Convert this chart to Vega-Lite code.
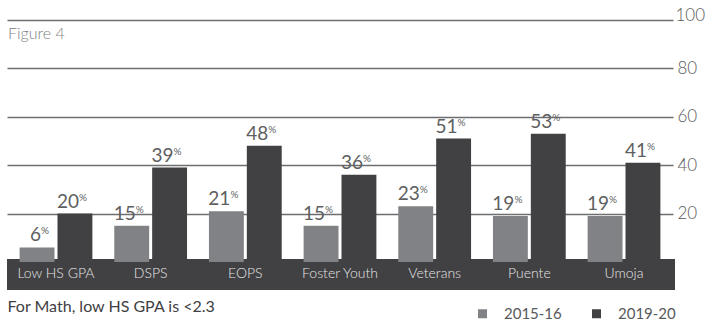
{
  "$schema": "https://vega.github.io/schema/vega-lite/v6.json",
  "autosize": {"type": "none"},
  "padding": {"left": 7, "top": 20, "right": 37, "bottom": 31},
  "width": 666,
  "height": 270,
  "title": {
    "text": "Figure 4",
    "orient": "top",
    "anchor": "start",
    "frame": "group",
    "font": "Lato",
    "fontSize": 16,
    "fontWeight": 300,
    "color": "#808285",
    "baseline": "alphabetic",
    "offset": -17,
    "dy": 32,
    "dx": 1
  },
  "data": {
    "values": [
      {"program": "Low HS GPA", "year": "2015-16", "pct": 6},
      {"program": "Low HS GPA", "year": "2019-20", "pct": 20},
      {"program": "DSPS", "year": "2015-16", "pct": 15},
      {"program": "DSPS", "year": "2019-20", "pct": 39},
      {"program": "EOPS", "year": "2015-16", "pct": 21},
      {"program": "EOPS", "year": "2019-20", "pct": 48},
      {"program": "Foster Youth", "year": "2015-16", "pct": 15},
      {"program": "Foster Youth", "year": "2019-20", "pct": 36},
      {"program": "Veterans", "year": "2015-16", "pct": 23},
      {"program": "Veterans", "year": "2019-20", "pct": 51},
      {"program": "Puente", "year": "2015-16", "pct": 19},
      {"program": "Puente", "year": "2019-20", "pct": 53},
      {"program": "Umoja", "year": "2015-16", "pct": 19},
      {"program": "Umoja", "year": "2019-20", "pct": 41}
    ]
  },
  "encoding": {
    "x": {
      "field": "program",
      "type": "nominal",
      "sort": null,
      "scale": {"paddingInner": 0, "paddingOuter": 0.0175},
      "axis": {
        "orient": "bottom",
        "labels": false,
        "ticks": false,
        "domain": false,
        "grid": false,
        "title": "For Math, low HS GPA is <2.3",
        "titleAnchor": "start",
        "titleAlign": "left",
        "titleBaseline": "alphabetic",
        "titleX": 0,
        "titleY": 21,
        "titleFont": "Lato",
        "titleFontSize": 16,
        "titleFontWeight": "normal",
        "titleColor": "#414042"
      }
    }
  },
  "layer": [
    {
      "mark": {"type": "rect", "color": "#414042"},
      "encoding": {
        "x": {"value": 0},
        "x2": {"value": 668},
        "y": {"datum": 1.2, "type": "quantitative"},
        "y2": {"datum": -11.6}
      }
    },
    {
      "mark": {"type": "bar"},
      "encoding": {
        "xOffset": {
          "field": "year",
          "type": "nominal",
          "scale": {"paddingInner": 0.079, "paddingOuter": 0.289}
        },
        "y": {
          "field": "pct",
          "type": "quantitative",
          "scale": {"domain": [-11.6, 100], "nice": false, "zero": false},
          "axis": {
            "orient": "right",
            "values": [20, 40, 60, 80, 100],
            "grid": true,
            "gridColor": "#6d6e71",
            "gridWidth": 1.3,
            "domain": false,
            "ticks": false,
            "title": null,
            "labelAlign": "left",
            "labelBaseline": {"condition": {"test": "datum.value == 100", "value": "alphabetic"}, "value": "middle"},
            "labelPadding": {"condition": {"test": "datum.value == 100", "value": 2}, "value": 4},
            "labelFont": "Lato",
            "labelFontSize": 17,
            "labelFontWeight": 300,
            "labelColor": "#58595b",
            "labelOverlap": false
          }
        },
        "color": {
          "field": "year",
          "type": "nominal",
          "scale": {"domain": ["2015-16", "2019-20"], "range": ["#808285", "#414042"]},
          "legend": {
            "title": null,
            "orient": "none",
            "direction": "horizontal",
            "legendX": 468,
            "legendY": 286,
            "padding": 0,
            "symbolType": "square",
            "symbolSize": 81,
            "symbolStrokeWidth": 0,
            "symbolOpacity": 1,
            "labelOffset": 14,
            "columnPadding": 27,
            "labelFont": "Lato",
            "labelFontSize": 15,
            "labelColor": "#58595b"
          }
        }
      }
    },
    {
      "mark": {"type": "text", "align": "right", "baseline": "alphabetic", "dx": 4, "dy": -6, "font": "Lato", "fontSize": 19, "fontWeight": "normal", "color": "#5e5f61"},
      "encoding": {
        "xOffset": {"field": "year", "type": "nominal"},
        "y": {"field": "pct", "type": "quantitative"},
        "text": {"field": "pct", "type": "quantitative", "format": "d"}
      }
    },
    {
      "mark": {"type": "text", "align": "left", "baseline": "alphabetic", "dx": 4, "dy": -13, "font": "Lato", "fontSize": 10, "fontWeight": "normal", "color": "#5e5f61"},
      "encoding": {
        "xOffset": {"field": "year", "type": "nominal"},
        "y": {"field": "pct", "type": "quantitative"},
        "text": {"value": "%"}
      }
    },
    {
      "transform": [{"filter": "datum.year == '2015-16'"}],
      "mark": {"type": "text", "align": "center", "baseline": "middle", "font": "Lato", "fontSize": 14, "fontWeight": 300, "color": "#e6e7e8"},
      "encoding": {
        "y": {"datum": -5, "type": "quantitative"},
        "text": {"field": "program", "type": "nominal"}
      }
    }
  ],
  "config": {
    "view": {"stroke": null},
    "font": "Lato"
  }
}
